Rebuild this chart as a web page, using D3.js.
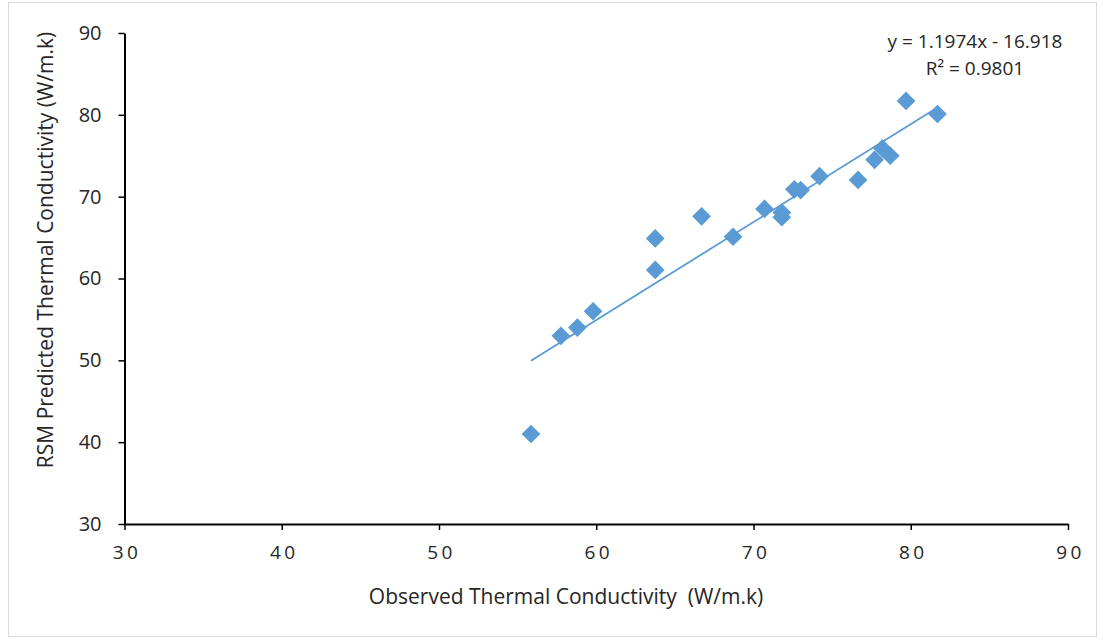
<!DOCTYPE html>
<html><head><meta charset="utf-8">
<script src="https://cdn.jsdelivr.net/npm/d3@7"></script>
<style>
html,body{margin:0;padding:0;background:#fff;}
text{font-family:"Open Sans","Liberation Sans",sans-serif;fill:#262626;}
</style></head><body>
<svg id="chart" width="1103" height="640"></svg>
<script>
const observed = [79.7, 81.7, 78.2, 77.7, 78.7, 76.65, 74.2, 72.6, 73.0, 70.7, 71.8, 71.8, 66.7, 68.7, 63.75, 63.75, 59.8, 58.8, 57.75, 55.85];
const predicted = [81.7, 80.1, 75.9, 74.5, 75.0, 72.05, 72.5, 70.9, 70.8, 68.5, 68.05, 67.5, 67.6, 65.1, 64.9, 61.05, 56.0, 54.0, 53.0, 41.0];
const xTicks = [30, 40, 50, 60, 70, 80, 90];
const yTicks = [30, 40, 50, 60, 70, 80, 90];
const slope = 1.1974, intercept = -16.918;
const eqLabel = "y = 1.1974x - 16.918";
const r2Label = "R² = 0.9801";
const xTitle = "Observed Thermal Conductivity  (W/m.k)";
const yTitle = "RSM Predicted Thermal Conductivity (W/m.k)";

const svg = d3.select("#chart");
svg.append("rect").attr("x",8.5).attr("y",2.5).attr("width",1088).attr("height",634)
  .attr("fill","#fff").attr("stroke","#d9d9d9").attr("stroke-width",1);

const x = d3.scaleLinear().domain([30,90]).range([124.5,1068]);
const y = d3.scaleLinear().domain([30,90]).range([524,33]);

const xAxis = svg.append("g").attr("transform","translate(0,524)")
  .call(d3.axisBottom(x).tickValues(xTicks).tickSize(6).tickPadding(16).tickSizeOuter(0));
xAxis.select(".domain").attr("stroke","#000").attr("stroke-width",2);
xAxis.selectAll(".tick line").attr("stroke","#000").attr("stroke-width",1.5);
xAxis.selectAll(".tick text").attr("font-size","19px").attr("letter-spacing","3.5px")
  .attr("dx","2px").attr("fill","#262626").style("font-family","'Open Sans',sans-serif");

const yAxis = svg.append("g").attr("transform","translate(124.5,0)")
  .call(d3.axisLeft(y).tickValues(yTicks).tickSize(6).tickPadding(17).tickSizeOuter(0));
yAxis.select(".domain").attr("stroke","#000").attr("stroke-width",2);
yAxis.selectAll(".tick text").attr("font-size","20px").attr("fill","#262626")
  .style("font-family","'Open Sans',sans-serif");
yAxis.selectAll(".tick line").attr("stroke","#000").attr("stroke-width",1.5);

// trendline
const xmin = d3.min(observed), xmax = d3.max(observed);
svg.append("line")
  .attr("x1",x(xmin)).attr("y1",y(slope*xmin+intercept))
  .attr("x2",x(xmax)).attr("y2",y(slope*xmax+intercept))
  .attr("stroke","#5b9bd5").attr("stroke-width",1.8);

// markers
const sym = d3.symbol().type(d3.symbolSquare).size(175);
svg.append("g").selectAll("path").data(observed.map((d,i)=>[d,predicted[i]])).join("path")
  .attr("d",sym)
  .attr("transform",d=>`translate(${x(d[0])},${y(d[1])}) rotate(45)`)
  .attr("fill","#5b9bd5");

svg.append("text").attr("x",975).attr("y",48).attr("text-anchor","middle")
  .attr("font-size","19px").text(eqLabel);
svg.append("text").attr("x",975).attr("y",75).attr("text-anchor","middle")
  .attr("font-size","19px").text(r2Label);

svg.append("text").attr("x",566).attr("y",604).attr("text-anchor","middle")
  .style("white-space","pre").attr("font-size","21px").text(xTitle);
svg.append("text").attr("transform","translate(53,250) rotate(-90)").attr("text-anchor","middle")
  .attr("font-size","21px").text(yTitle);
</script>
</body></html>
